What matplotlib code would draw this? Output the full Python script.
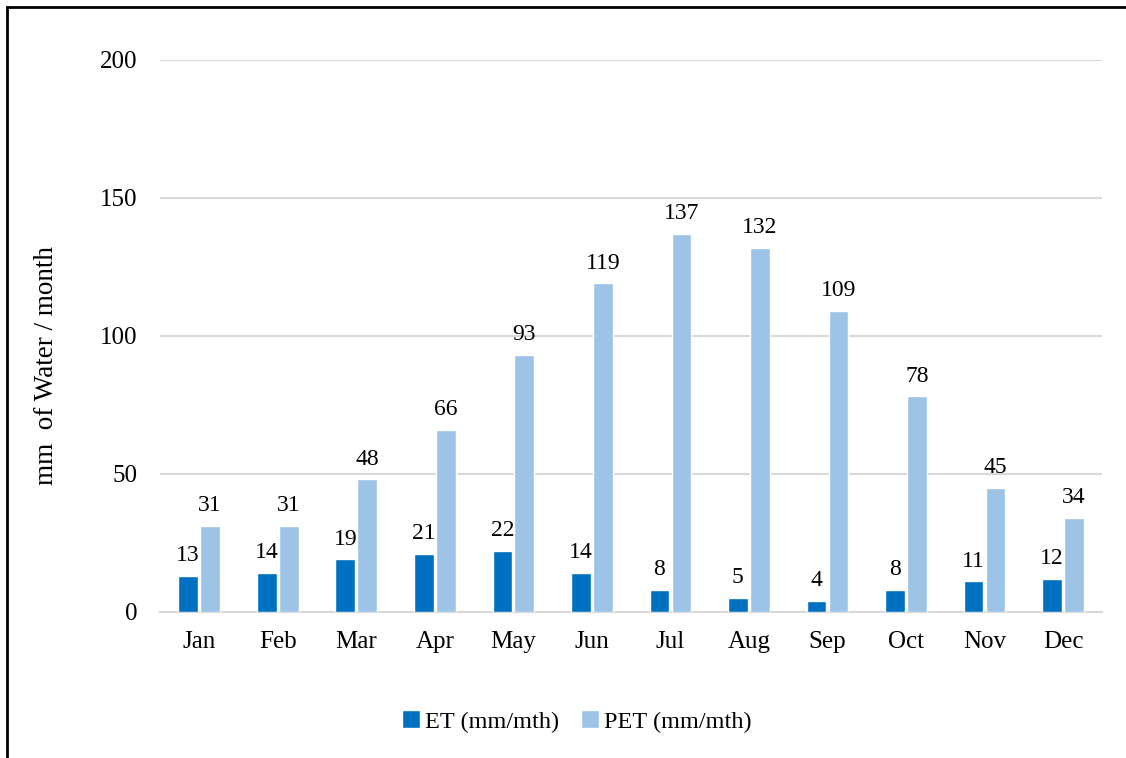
import numpy as np
import matplotlib.pyplot as plt
from matplotlib.patches import Rectangle

months = ["Jan", "Feb", "Mar", "Apr", "May", "Jun",
          "Jul", "Aug", "Sep", "Oct", "Nov", "Dec"]
et = [13, 14, 19, 21, 22, 14, 8, 5, 4, 8, 11, 12]
pet = [31, 31, 48, 66, 93, 119, 137, 132, 109, 78, 45, 34]

plt.rcParams["font.family"] = ["Liberation Serif", "DejaVu Serif"]

fig = plt.figure(figsize=(11.26, 7.58), dpi=100)
ax = fig.add_axes([0.142, 0.193, 0.837, 0.728])

x = np.arange(len(months))
w = 0.25
b1 = ax.bar(x - 0.14, et, w, color="#0070C0", edgecolor="white", linewidth=1,
            label="ET (mm/mth)", zorder=3)
b2 = ax.bar(x + 0.14, pet, w, color="#9DC3E6", edgecolor="white", linewidth=1,
            label="PET (mm/mth)", zorder=3)

# value labels above each bar
for bars, vals in ((b1, et), (b2, pet)):
    for rect, v in zip(bars, vals):
        ax.annotate(str(v), (rect.get_x() + rect.get_width() / 2, v),
                    xytext=(0, 7), textcoords="offset points",
                    ha="center", va="bottom", fontsize=17)

ax.set_xlim(-0.5, len(months) - 0.5)
ax.set_ylim(0, 200)
ax.set_yticks([0, 50, 100, 150, 200])
ax.set_xticks(x)
ax.set_xticklabels(months)
ax.tick_params(axis="both", length=0, labelsize=18)
ax.tick_params(axis="y", pad=16)
ax.tick_params(axis="x", pad=14)
ax.grid(axis="y", color="#D9D9D9", linewidth=1.5, zorder=0)
for s in ("top", "right", "left"):
    ax.spines[s].set_visible(False)
ax.spines["bottom"].set_color("#D9D9D9")
ax.spines["bottom"].set_linewidth(1.5)

ax.set_ylabel("mm  of Water / month", fontsize=19.5, labelpad=30)
ax.yaxis.label.set_y(0.447)

fig.legend(handles=[b1, b2], loc="center", bbox_to_anchor=(0.512, 0.048),
           ncol=2, frameon=False, fontsize=17.5, handlelength=0.75,
           handleheight=0.75, handletextpad=0.2, columnspacing=0.9)

# outer chart frame (right and bottom edges fall outside the image)
fig.patches.append(Rectangle((7 / 1126, -0.05), 1.2, (758 - 7) / 758 + 0.05,
                             transform=fig.transFigure, fill=False,
                             edgecolor="black", linewidth=2))

fig.savefig("out.png", dpi=100)
